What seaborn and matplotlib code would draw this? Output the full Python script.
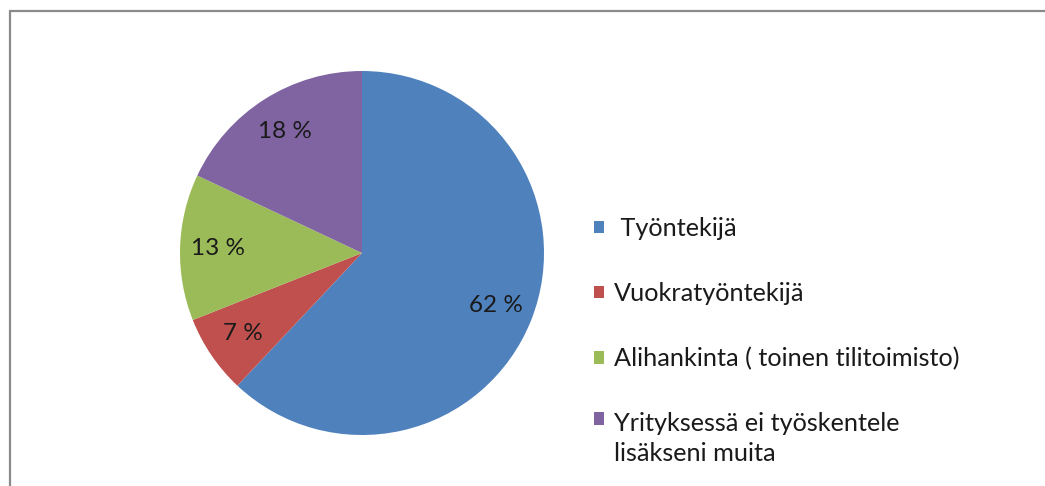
import matplotlib
matplotlib.use("Agg")
import matplotlib.pyplot as plt
import seaborn as sns
from matplotlib.lines import Line2D

sns.set_theme(style="white")
plt.rcParams["font.family"] = ["Lato", "DejaVu Sans"]

labels = [" Työntekijä", "Vuokratyöntekijä", "Alihankinta ( toinen tilitoimisto)",
          "Yrityksessä ei työskentele\nlisäkseni muita"]
values = [62, 7, 13, 18]
colors = ["#4F81BD", "#C0504D", "#9BBB59", "#8064A2"]

W, H = 1045, 486
fig = plt.figure(figsize=(W / 100, H / 100), dpi=100)
fig.patch.set_facecolor("white")

# pie axes: centre (362, 253) px, radius 182 px
r = 182
ax = fig.add_axes([(362 - r) / W, (H - 253 - r) / H, 2 * r / W, 2 * r / H])
wedges, texts, autotexts = ax.pie(
    values, colors=colors, startangle=90, counterclock=False,
    autopct=lambda p: f"{p:.0f} %", pctdistance=0.79, radius=1,
    wedgeprops=dict(linewidth=0),
    textprops=dict(fontsize=17.5, color="#1a1a1a"),
)
ax.set_xlim(-1, 1)
ax.set_ylim(-1, 1)
ax.set_aspect("equal")
ax.axis("off")

leg = fig.legend(
    wedges, labels, loc="upper left", bbox_to_anchor=(594 / W, 1 - 217 / H),
    frameon=False, fontsize=18.2, handlelength=0.4, handleheight=0.4,
    handletextpad=0.38, labelspacing=1.66, borderpad=0, borderaxespad=0,
)
for t in leg.get_texts():
    t.set_color("#1a1a1a")
    t.set_linespacing(1.37)

# put the marker of the two-line entry next to its first line
for col in leg._legend_handle_box.get_children():
    rows = col.get_children()
    rows[-1].align = "top"

# chart frame (only top and left edges are visible)
fig.add_artist(Line2D([9.5 / W, 9.5 / W], [0, 1 - 11 / H], color="#8a8a8a", lw=1.6))
fig.add_artist(Line2D([9.5 / W, 1], [1 - 11 / H, 1 - 11 / H], color="#8a8a8a", lw=1.6))

fig.savefig("out.png", dpi=100, facecolor="white")
